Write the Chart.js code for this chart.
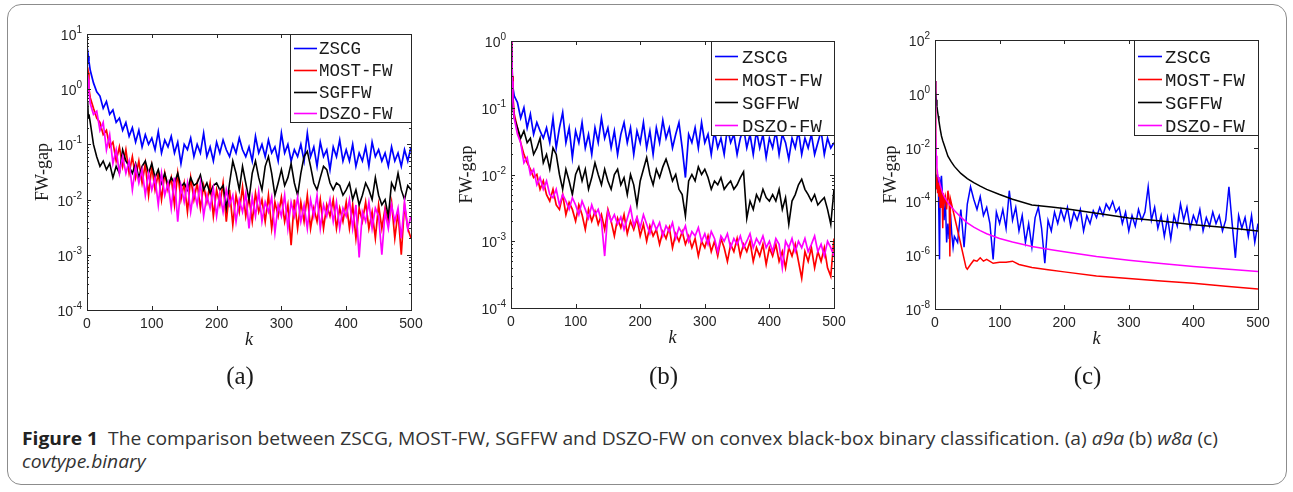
<!DOCTYPE html>
<html>
<head>
<meta charset="utf-8">
<script src="https://cdn.jsdelivr.net/npm/chart.js@4.4.0/dist/chart.umd.min.js"></script>
<style>
  body { margin: 0; background: #fff; width: 1293px; height: 492px; overflow: hidden; position: relative; }
  #frame { position: absolute; left: 7px; top: 4px; width: 1280px; height: 481px; box-sizing: border-box;
           border: 1px solid #8c8c8c; border-radius: 14px; }
  canvas { position: absolute; top: 0; }
  #caption { position: absolute; left: 22px; top: 426px; font-family: "Open Sans", sans-serif; font-size: 18.5px;
             line-height: 23px; color: #333; white-space: nowrap; transform-origin: left top; }
  #caption b { color: #222; }
</style>
</head>
<body>
<div id="frame"></div>
<canvas id="chartA" width="430" height="400" style="left:0px"></canvas>
<canvas id="chartB" width="430" height="400" style="left:430px"></canvas>
<canvas id="chartC" width="433" height="400" style="left:860px"></canvas>
<div id="caption"><span id="line1"><b>Figure 1</b>&nbsp;&nbsp;The comparison between ZSCG, MOST-FW, SGFFW and DSZO-FW on convex black-box binary classification. (a) <i>a9a</i> (b) <i>w8a</i> (c)</span><br><i>covtype.binary</i></div>
<script>
// ---- data ----
const labels = ['ZSCG', 'MOST-FW', 'SGFFW', 'DSZO-FW'];
const colors = ['#0000ff', '#ff0000', '#000000', '#ff00ff'];
const xTicks = [0, 100, 200, 300, 400, 500];
const yExpA = [-4, -3, -2, -1, 0, 1];
const yExpB = [-4, -3, -2, -1, 0];
const yExpC = [-8, -6, -4, -2, 0, 2];

// iterations used for the noisy curves of (a) and (b)
const kNoisy = [1,2,3,5,10,15,20,25,30,35,40,45,50,55,60,65,70,75,80,85,90,95,100,
  105,110,115,120,125,130,135,140,145,150,155,160,165,170,175,180,185,190,195,200,
  205,210,215,220,225,230,235,240,245,250,255,260,265,270,275,280,285,290,295,300,
  305,310,315,320,325,330,335,340,345,350,355,360,365,370,375,380,385,390,395,400,
  405,410,415,420,425,430,435,440,445,450,455,460,465,470,475,480,485,490,495,500];

// (a) a9a
const zscgA = [3.0,4.0,3.2,2.2,1.3,0.9,0.75,0.45,0.6,0.35,0.42,0.25,0.3,0.18,0.25,0.14,0.2,0.11,0.18,0.09,0.15,0.1,0.13,
  0.08,0.17,0.07,0.12,0.09,0.14,0.07,0.11,0.045,0.1,0.08,0.13,0.06,0.1,0.07,0.16,0.06,0.09,0.05,0.11,
  0.07,0.12,0.08,0.06,0.1,0.07,0.13,0.08,0.06,0.09,0.05,0.14,0.07,0.1,0.06,0.12,0.07,0.09,0.05,0.16,
  0.07,0.1,0.05,0.08,0.06,0.1,0.05,0.16,0.06,0.09,0.04,0.11,0.06,0.08,0.035,0.09,0.06,0.12,0.05,0.08,
  0.05,0.1,0.04,0.07,0.05,0.09,0.04,0.11,0.06,0.08,0.05,0.07,0.04,0.09,0.05,0.07,0.04,0.08,0.05,0.09];
const mostA = [2.5,2.0,1.0,0.7,0.45,0.3,0.25,0.15,0.18,0.09,0.11,0.05,0.09,0.04,0.08,0.03,0.06,0.025,0.05,0.02,0.045,0.012,0.04,
  0.015,0.03,0.01,0.03,0.015,0.025,0.008,0.03,0.01,0.02,0.006,0.025,0.01,0.02,0.007,0.018,0.009,0.02,0.005,0.015,
  0.008,0.02,0.004,0.015,0.0035,0.012,0.006,0.017,0.005,0.011,0.004,0.013,0.006,0.01,0.004,0.012,0.003,0.009,0.005,0.011,
  0.004,0.008,0.0015,0.01,0.003,0.009,0.004,0.012,0.003,0.007,0.004,0.01,0.003,0.008,0.005,0.01,0.003,0.007,0.004,0.009,
  0.003,0.008,0.002,0.007,0.004,0.009,0.003,0.006,0.002,0.008,0.003,0.007,0.004,0.009,0.002,0.006,0.001,0.008,0.003,0.002];
const sgffwA = [0.6,0.3,0.35,0.25,0.1,0.06,0.04,0.05,0.035,0.045,0.025,0.04,0.03,0.08,0.05,0.04,0.03,0.045,0.025,0.04,0.05,0.03,0.045,
  0.025,0.035,0.02,0.03,0.018,0.025,0.02,0.03,0.017,0.02,0.015,0.025,0.018,0.02,0.028,0.015,0.02,0.013,0.018,0.02,
  0.015,0.018,0.007,0.02,0.05,0.03,0.015,0.04,0.02,0.01,0.03,0.05,0.025,0.015,0.04,0.06,0.03,0.012,0.02,0.035,
  0.018,0.025,0.045,0.02,0.012,0.03,0.06,0.075,0.04,0.02,0.015,0.025,0.04,0.035,0.02,0.015,0.02,0.018,0.012,0.015,
  0.02,0.01,0.015,0.008,0.012,0.02,0.015,0.01,0.025,0.012,0.008,0.01,0.005,0.02,0.015,0.03,0.015,0.01,0.018,0.015];
const dszoA = [1.8,1.5,0.9,0.55,0.35,0.4,0.18,0.25,0.08,0.15,0.045,0.08,0.03,0.06,0.03,0.05,0.015,0.04,0.02,0.035,0.012,0.03,0.015,
  0.025,0.008,0.03,0.012,0.02,0.007,0.025,0.004,0.018,0.009,0.02,0.006,0.015,0.008,0.02,0.005,0.012,0.007,0.016,0.005,
  0.013,0.006,0.015,0.008,0.012,0.004,0.01,0.006,0.013,0.003,0.011,0.005,0.014,0.004,0.009,0.006,0.011,0.0025,0.008,0.005,
  0.012,0.003,0.009,0.005,0.011,0.004,0.008,0.003,0.01,0.005,0.012,0.003,0.008,0.005,0.01,0.004,0.009,0.003,0.007,0.005,
  0.01,0.003,0.008,0.0009,0.006,0.004,0.009,0.003,0.007,0.005,0.001,0.006,0.003,0.008,0.004,0.007,0.002,0.009,0.003,0.005];

// (b) w8a
const zscgB = [1.0,0.3,0.2,0.15,0.12,0.07,0.1,0.05,0.08,0.04,0.06,0.045,0.035,0.05,0.03,0.07,0.025,0.05,0.085,0.03,0.05,0.018,0.045,
  0.03,0.06,0.025,0.04,0.02,0.05,0.03,0.07,0.035,0.05,0.025,0.045,0.02,0.04,0.06,0.03,0.05,0.02,0.045,0.03,
  0.06,0.025,0.045,0.02,0.05,0.03,0.065,0.035,0.05,0.025,0.04,0.06,0.025,0.009,0.04,0.03,0.05,0.025,0.06,0.03,
  0.04,0.02,0.045,0.025,0.035,0.02,0.05,0.03,0.04,0.02,0.035,0.05,0.025,0.04,0.02,0.045,0.025,0.04,0.018,0.035,
  0.025,0.045,0.02,0.04,0.03,0.017,0.035,0.025,0.045,0.02,0.035,0.025,0.04,0.02,0.03,0.045,0.02,0.035,0.025,0.03];
const mostB = [1.0,0.3,0.15,0.08,0.05,0.03,0.02,0.015,0.012,0.009,0.01,0.006,0.008,0.005,0.004,0.006,0.0035,0.003,0.005,0.0025,0.0038,0.003,0.002,
  0.0035,0.0025,0.0015,0.003,0.002,0.0028,0.0018,0.0025,0.0015,0.003,0.002,0.0012,0.0022,0.0016,0.0025,0.0013,0.002,0.0015,0.0022,0.0012,
  0.0018,0.001,0.0017,0.0012,0.0015,0.0009,0.0014,0.0011,0.0016,0.0008,0.0013,0.001,0.0014,0.0009,0.0012,0.0008,0.0011,0.0006,0.001,0.0008,
  0.0012,0.0007,0.001,0.0006,0.0011,0.0008,0.0005,0.0009,0.0007,0.0011,0.0006,0.0009,0.0007,0.001,0.0005,0.0008,0.0006,0.0009,0.00045,0.0008,
  0.0006,0.0009,0.0005,0.0007,0.0004,0.0008,0.0006,0.0009,0.0005,0.00028,0.0007,0.0005,0.0008,0.0004,0.0007,0.0005,0.0008,0.0004,0.0003,0.0011];
const sgffwB = [0.8,0.2,0.1,0.07,0.05,0.035,0.045,0.03,0.035,0.02,0.025,0.035,0.015,0.02,0.012,0.025,0.02,0.01,0.006,0.012,0.008,0.005,0.01,
  0.013,0.008,0.012,0.006,0.009,0.015,0.01,0.007,0.012,0.008,0.006,0.01,0.012,0.007,0.009,0.005,0.01,0.007,0.0035,0.008,
  0.012,0.018,0.01,0.007,0.012,0.009,0.013,0.017,0.012,0.008,0.01,0.006,0.005,0.0024,0.008,0.01,0.008,0.013,0.01,0.012,
  0.009,0.006,0.008,0.007,0.009,0.006,0.007,0.008,0.006,0.007,0.009,0.011,0.0022,0.004,0.003,0.005,0.004,0.006,0.0045,0.004,
  0.005,0.004,0.006,0.003,0.0045,0.0018,0.004,0.005,0.007,0.0085,0.006,0.005,0.004,0.005,0.0035,0.004,0.0045,0.003,0.0018,0.006];
const dszoB = [1.0,0.25,0.12,0.07,0.04,0.03,0.015,0.018,0.01,0.012,0.007,0.009,0.006,0.008,0.005,0.0045,0.006,0.0035,0.005,0.004,0.003,0.0045,0.0035,
  0.0025,0.004,0.003,0.0022,0.0035,0.0025,0.003,0.002,0.0006,0.0028,0.002,0.0025,0.0018,0.0023,0.0015,0.0022,0.0032,0.0017,0.0023,0.0016,
  0.0025,0.0018,0.0013,0.002,0.0015,0.0019,0.0012,0.0017,0.0014,0.0019,0.0011,0.0016,0.0013,0.0017,0.001,0.0014,0.0012,0.0016,0.001,0.0013,
  0.0009,0.0014,0.0011,0.0007,0.0012,0.001,0.0013,0.0008,0.0011,0.0009,0.0012,0.0008,0.001,0.0013,0.0008,0.0011,0.0009,0.0012,0.0008,0.001,
  0.0007,0.0011,0.0009,0.0004,0.001,0.0008,0.0011,0.0007,0.001,0.0008,0.0011,0.0007,0.0009,0.0012,0.0007,0.0009,0.0006,0.001,0.0008,0.0006];

// (c) covtype.binary
const kZscgC = [1,2,3,4,5,6,7,8,9,10,12,14,16,18,20,22,24,26,28,30,
  35,40,45,50,55,60,65,70,75,80,85,90,95,100,
  105,110,115,120,125,130,135,140,145,150,155,160,165,170,175,180,185,190,195,200,
  205,210,215,220,225,230,235,240,245,250,255,260,265,270,275,280,285,290,295,300,
  305,310,315,320,325,330,335,340,345,350,355,360,365,370,375,380,385,390,395,400,
  405,410,415,420,425,430,435,440,445,450,455,460,465,470,475,480,485,490,495,500];
const zscgC = [5e-4,3e-4,1e-3,4e-4,8e-4,3e-5,7e-7,2e-4,6e-4,9e-4,1e-4,2e-5,1.2e-4,3e-6,1.5e-5,4e-6,3.5e-5,6e-6,2e-6,5e-6,
  3e-6,5e-5,2e-6,8e-5,3.5e-4,1.2e-4,5e-5,1.5e-4,3e-5,6e-5,1.5e-5,7e-7,4e-5,1.5e-5,
  5e-5,1e-5,2.5e-4,2e-5,6e-5,8e-6,3e-5,3e-6,1.5e-5,2e-6,2.5e-5,6e-5,1e-5,5e-7,2e-5,8e-6,4e-5,1.5e-5,5e-5,2e-5,
  6e-5,1.2e-5,4e-5,2e-5,5e-5,8e-6,3e-5,1.5e-5,4.5e-5,2.5e-5,6e-5,3e-5,8e-5,5e-5,1e-4,4e-5,6e-5,1.5e-5,4e-5,8e-6,
  3e-5,1.2e-5,5e-5,2e-5,4e-5,3.5e-4,2e-5,6e-5,1e-5,3e-5,5e-6,2.5e-5,4e-6,3e-5,1.2e-5,8e-5,2e-5,6e-5,1e-5,3e-5,
  1.5e-5,5e-5,8e-6,2.5e-5,1.2e-5,4e-5,1.5e-5,3e-5,8e-6,2e-5,3.5e-4,1.5e-5,8e-7,3e-5,1e-5,2.5e-5,5e-6,3e-5,3e-6,1.5e-5];
const kMostC = [0,1,2,3,4,5,6,7,8,9,10,11,12,13,14,16,18,20,22,23,24,30,40,48,50,55,60,65,70,75,80,90,
  100,110,120,130,150,175,200,250,300,350,400,450,500];
const mostC = [3.0,2e-3,3e-4,8e-4,2e-4,5e-4,1.5e-4,4e-4,6e-5,3e-4,1e-4,2e-4,1e-5,2e-4,8e-5,1.5e-4,5e-5,2.5e-4,1e-4,9e-7,1.2e-4,2.8e-5,2.5e-6,3.5e-7,3e-7,4.5e-7,6.5e-7,6e-7,8e-7,6e-7,7e-7,5e-7,
  5.5e-7,5.5e-7,6e-7,4.5e-7,3.5e-7,2.9e-7,2.4e-7,1.7e-7,1.35e-7,1.1e-7,9e-8,7e-8,5.5e-8];
const kSmoothC = [0,1,2,3,4,5,6,8,10,12,15,20,25,30,40,50,60,70,80,100,120,150,180,200,250,300,350,400,450,500];
const sgffwC = [3.0,1.3,0.6,0.35,0.22,0.15,0.1,0.05,0.027,0.018,0.011,0.0048,0.003,0.002,0.0011,7e-4,5e-4,3.7e-4,2.8e-4,
  1.8e-4,1.2e-4,7.4e-5,6.2e-5,5.4e-5,3.6e-5,2.4e-5,1.85e-5,1.35e-5,1.08e-5,8e-6];
const dszoC = [3.0,0.05,0.005,0.0018,0.0011,8e-4,6.5e-4,4.2e-4,2.8e-4,2e-4,1.4e-4,9e-5,6.3e-5,4.6e-5,2.6e-5,1.6e-5,1.1e-5,8.2e-6,6.3e-6,
  4.2e-6,3.1e-6,2.1e-6,1.6e-6,1.35e-6,9e-7,6.5e-7,4.9e-7,3.8e-7,3.1e-7,2.5e-7];

// ---- drawing ----
const TICK_FONT = '"Liberation Sans", Arial, sans-serif';
const SERIF = '"Liberation Serif", "Times New Roman", serif';

const figAxes = {
  id: 'figAxes',
  afterDatasetsDraw(chart, args, o) {
    const { ctx, chartArea: a, scales: { x, y } } = chart;
    ctx.save();
    ctx.strokeStyle = '#262626';
    ctx.lineWidth = 1;
    ctx.beginPath();
    xTicks.forEach(t => {
      const px = Math.round(x.getPixelForValue(t)) + 0.5;
      ctx.moveTo(px, a.bottom); ctx.lineTo(px, a.bottom - 4);
      ctx.moveTo(px, a.top); ctx.lineTo(px, a.top + 4);
    });
    o.yExps.forEach(e => {
      const py = Math.round(y.getPixelForValue(Math.pow(10, e))) + 0.5;
      ctx.moveTo(a.left, py); ctx.lineTo(a.left + 4, py);
      ctx.moveTo(a.right, py); ctx.lineTo(a.right - 4, py);
    });
    if (o.minor) {
      for (let i = 0; i < o.yExps.length - 1; i++) {
        for (let m = 2; m <= 9; m++) {
          const py = Math.round(y.getPixelForValue(m * Math.pow(10, o.yExps[i]))) + 0.5;
          ctx.moveTo(a.left, py); ctx.lineTo(a.left + 2, py);
          ctx.moveTo(a.right, py); ctx.lineTo(a.right - 2, py);
        }
      }
    }
    ctx.stroke();
    ctx.strokeRect(a.left + 0.5, a.top + 0.5, a.right - a.left, a.bottom - a.top);

    // tick labels
    ctx.fillStyle = '#262626';
    ctx.textBaseline = 'alphabetic';
    ctx.textAlign = 'center';
    ctx.font = '14px ' + TICK_FONT;
    xTicks.forEach(t => ctx.fillText(String(t), x.getPixelForValue(t), a.bottom + 18));
    ctx.textAlign = 'left';
    o.yExps.forEach(e => {
      const py = y.getPixelForValue(Math.pow(10, e));
      ctx.font = '14px ' + TICK_FONT;
      const w1 = ctx.measureText('10').width;
      ctx.font = '10px ' + TICK_FONT;
      const w2 = ctx.measureText(String(e)).width;
      const x0 = a.left - 5 - w1 - w2;
      ctx.font = '14px ' + TICK_FONT;
      ctx.fillText('10', x0, py + 6);
      ctx.font = '10px ' + TICK_FONT;
      ctx.fillText(String(e), x0 + w1, py - 1);
    });

    // axis titles and panel label
    const cx = (a.left + a.right) / 2, cy = (a.top + a.bottom) / 2;
    ctx.fillStyle = '#1a1a1a';
    ctx.textAlign = 'center';
    ctx.font = 'italic 18px ' + SERIF;
    ctx.fillText('k', cx, a.bottom + 35);
    ctx.font = '25px ' + SERIF;
    ctx.fillText(o.panel, cx - 9, 384);
    ctx.save();
    ctx.translate(a.left - 39, cy);
    ctx.rotate(-Math.PI / 2);
    ctx.font = '18px ' + SERIF;
    ctx.fillText('FW-gap', 0, 0);
    ctx.restore();

    // legend
    const L = o.legend;
    const bx = a.right - L.w, by = a.top;
    ctx.fillStyle = '#fff';
    ctx.fillRect(bx, by, L.w, L.h);
    ctx.strokeStyle = '#262626';
    ctx.lineWidth = 1;
    ctx.strokeRect(bx + 0.5, by + 0.5, L.w, L.h);
    ctx.textAlign = 'left';
    ctx.textBaseline = 'middle';
    ctx.font = L.font + 'px "Liberation Mono", "Courier New", monospace';
    chart.data.datasets.forEach((ds, i) => {
      const ry = by + L.rows[i] + 0.5;
      ctx.strokeStyle = ds.borderColor;
      ctx.lineWidth = 1.6;
      ctx.beginPath();
      ctx.moveTo(bx + 4, ry); ctx.lineTo(bx + L.l1, ry);
      ctx.stroke();
      ctx.fillStyle = '#1a1a1a';
      ctx.fillText(ds.label, bx + L.tx, ry + 1);
    });
    ctx.restore();
  }
};

function makeChart(id, series, cfg) {
  return new Chart(document.getElementById(id), {
    type: 'line',
    data: {
      datasets: series.map((s, i) => ({
        label: labels[i],
        data: s.k.map((k, j) => ({ x: k, y: s.v[j] })),
        borderColor: colors[i],
        borderWidth: cfg.lw[i],
        pointRadius: 0,
        tension: 0,
        fill: false,
        order: 4 - i
      }))
    },
    options: {
      responsive: false,
      animation: false,
      events: [],
      layout: { padding: cfg.pad },
      plugins: {
        legend: { display: false },
        tooltip: { enabled: false },
        figAxes: cfg
      },
      scales: {
        x: { type: 'linear', min: 0, max: 500, display: false },
        y: { type: 'logarithmic', min: cfg.ymin, max: cfg.ymax, display: false }
      }
    },
    plugins: [figAxes]
  });
}

makeChart('chartA', [
  { k: kNoisy, v: zscgA }, { k: kNoisy, v: mostA }, { k: kNoisy, v: sgffwA }, { k: kNoisy, v: dszoA }
], {
  pad: { left: 87, right: 19, top: 34, bottom: 90 }, ymin: 1e-4, ymax: 1e1, yExps: yExpA, minor: true, panel: '(a)',
  lw: [1.7, 1.7, 1.6, 1.7],
  legend: { w: 121, h: 88, rows: [14, 36, 58, 79], l1: 27, tx: 29, font: 17.5 }
});
makeChart('chartB', [
  { k: kNoisy, v: zscgB }, { k: kNoisy, v: mostB }, { k: kNoisy, v: sgffwB }, { k: kNoisy, v: dszoB }
], {
  pad: { left: 81, right: 26, top: 41, bottom: 92 }, ymin: 1e-4, ymax: 1e0, yExps: yExpB, minor: true, panel: '(b)',
  lw: [1.7, 1.7, 1.6, 1.7],
  legend: { w: 123, h: 94, rows: [15, 38, 61, 84], l1: 27, tx: 31, font: 19 }
});
makeChart('chartC', [
  { k: kZscgC, v: zscgC }, { k: kMostC, v: mostC }, { k: kSmoothC, v: sgffwC }, { k: kSmoothC, v: dszoC }
], {
  pad: { left: 75, right: 35, top: 40, bottom: 91 }, ymin: 1e-8, ymax: 1e2, yExps: yExpC, minor: false, panel: '(c)',
  lw: [1.5, 1.5, 1.5, 1.5],
  legend: { w: 124, h: 95, rows: [16, 39, 62, 85], l1: 28, tx: 31, font: 19 }
});

// squeeze caption to the width it has in the figure
function fitCaption() {
  const w = document.getElementById('line1').getBoundingClientRect().width;
  document.getElementById('caption').style.transform = 'scaleX(' + (1196 / w) + ')';
}
if (document.fonts && document.fonts.ready) document.fonts.ready.then(fitCaption); else fitCaption();
</script>
</body>
</html>
